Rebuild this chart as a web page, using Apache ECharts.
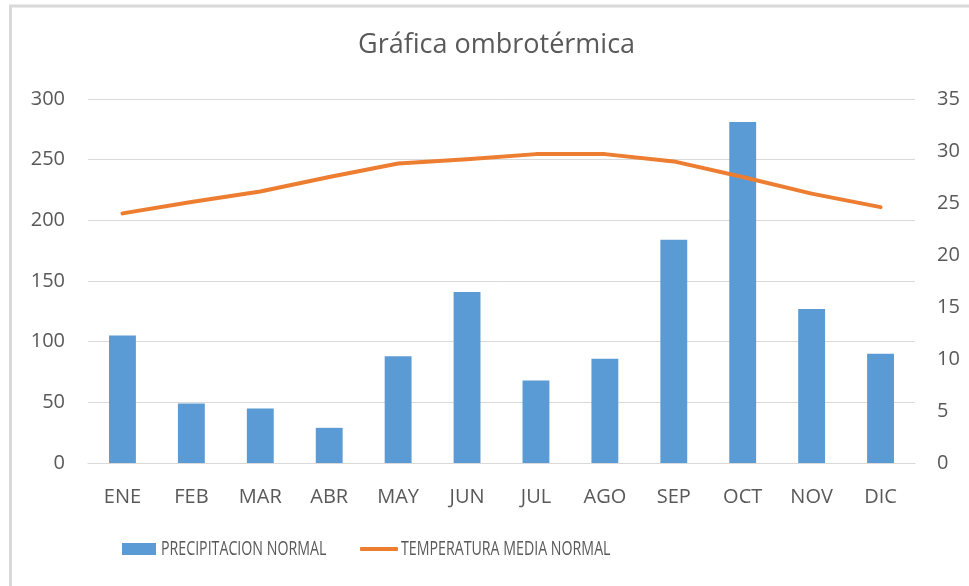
<!DOCTYPE html>
<html>
<head>
<meta charset="utf-8">
<script src="https://cdn.jsdelivr.net/npm/echarts@6/dist/echarts.min.js"></script>
<style>html,body{margin:0;padding:0;background:#fff}#c{width:969px;height:586px}</style>
</head>
<body>
<div id="c"></div>
<script>
const categories = ['ENE','FEB','MAR','ABR','MAY','JUN','JUL','AGO','SEP','OCT','NOV','DIC'];
const precipitacion = [105, 49, 45, 29, 88, 141, 68, 86, 184, 281, 127, 90];
const temperatura = [24.0, 25.1, 26.1, 27.5, 28.8, 29.2, 29.7, 29.7, 29.0, 27.5, 25.9, 24.6];
const leftTicks = [0, 300, 50];
const rightTicks = [0, 35, 5];
const seriesNames = ['PRECIPITACION NORMAL', 'TEMPERATURA MEDIA NORMAL'];

const txt = '#595959';
const font = '"Open Sans", sans-serif';
const chart = echarts.init(document.getElementById('c'));
const legendText = (name, x) => ({
  type: 'text', silent: true, x: x, y: 549, scaleX: 0.71,
  style: {text: name, fontFamily: font, fontSize: 20, fill: txt, verticalAlign: 'middle', align: 'left'}
});
chart.setOption({
  animation: false,
  backgroundColor: '#fff',
  graphic: [{
    type: 'rect', silent: true,
    shape: {x: 10.5, y: 6, width: 1200, height: 1200},
    style: {fill: 'none', stroke: '#d9d9d9', lineWidth: 3}
  }, legendText(seriesNames[0], 161), legendText(seriesNames[1], 401)],
  title: {
    text: 'Gráfica ombrotérmica',
    left: 353, top: 27,
    textStyle: {fontFamily: font, fontSize: 27, fontWeight: 'normal', color: txt}
  },
  legend: [{
    left: 122, top: 543, itemWidth: 34, itemHeight: 12, padding: 0,
    formatter: () => '',
    data: [{name: seriesNames[0], icon: 'rect'}]
  }, {
    left: 360, top: 547, itemWidth: 38, itemHeight: 4, padding: 0,
    formatter: () => '',
    data: [{name: seriesNames[1], icon: 'roundRect', itemStyle: {color: '#ed7d31'}}]
  }],
  grid: {left: 88, right: 54, top: 99, bottom: 123, containLabel: false},
  xAxis: {
    type: 'category', data: categories,
    axisTick: {show: false},
    axisLine: {show: true, lineStyle: {color: '#d9d9d9', width: 1}},
    axisLabel: {fontFamily: font, fontSize: 20, color: txt, margin: 24}
  },
  yAxis: [{
    type: 'value', min: leftTicks[0], max: leftTicks[1], interval: leftTicks[2],
    axisLine: {show: false}, axisTick: {show: false},
    splitLine: {lineStyle: {color: '#d9d9d9', width: 1}},
    axisLabel: {fontFamily: font, fontSize: 20, color: txt, margin: 23}
  }, {
    type: 'value', min: rightTicks[0], max: rightTicks[1], interval: rightTicks[2],
    axisLine: {show: false}, axisTick: {show: false},
    splitLine: {show: false},
    axisLabel: {fontFamily: font, fontSize: 20, color: txt, margin: 22}
  }],
  series: [{
    name: seriesNames[0], type: 'bar', data: precipitacion,
    barWidth: '39%',
    itemStyle: {color: '#5b9bd5'}
  }, {
    name: seriesNames[1], type: 'line', yAxisIndex: 1, data: temperatura,
    symbol: 'none', showSymbol: false,
    lineStyle: {color: '#ed7d31', width: 4, cap: 'round', join: 'round'},
    itemStyle: {color: '#ed7d31'}
  }]
});
</script>
</body>
</html>
